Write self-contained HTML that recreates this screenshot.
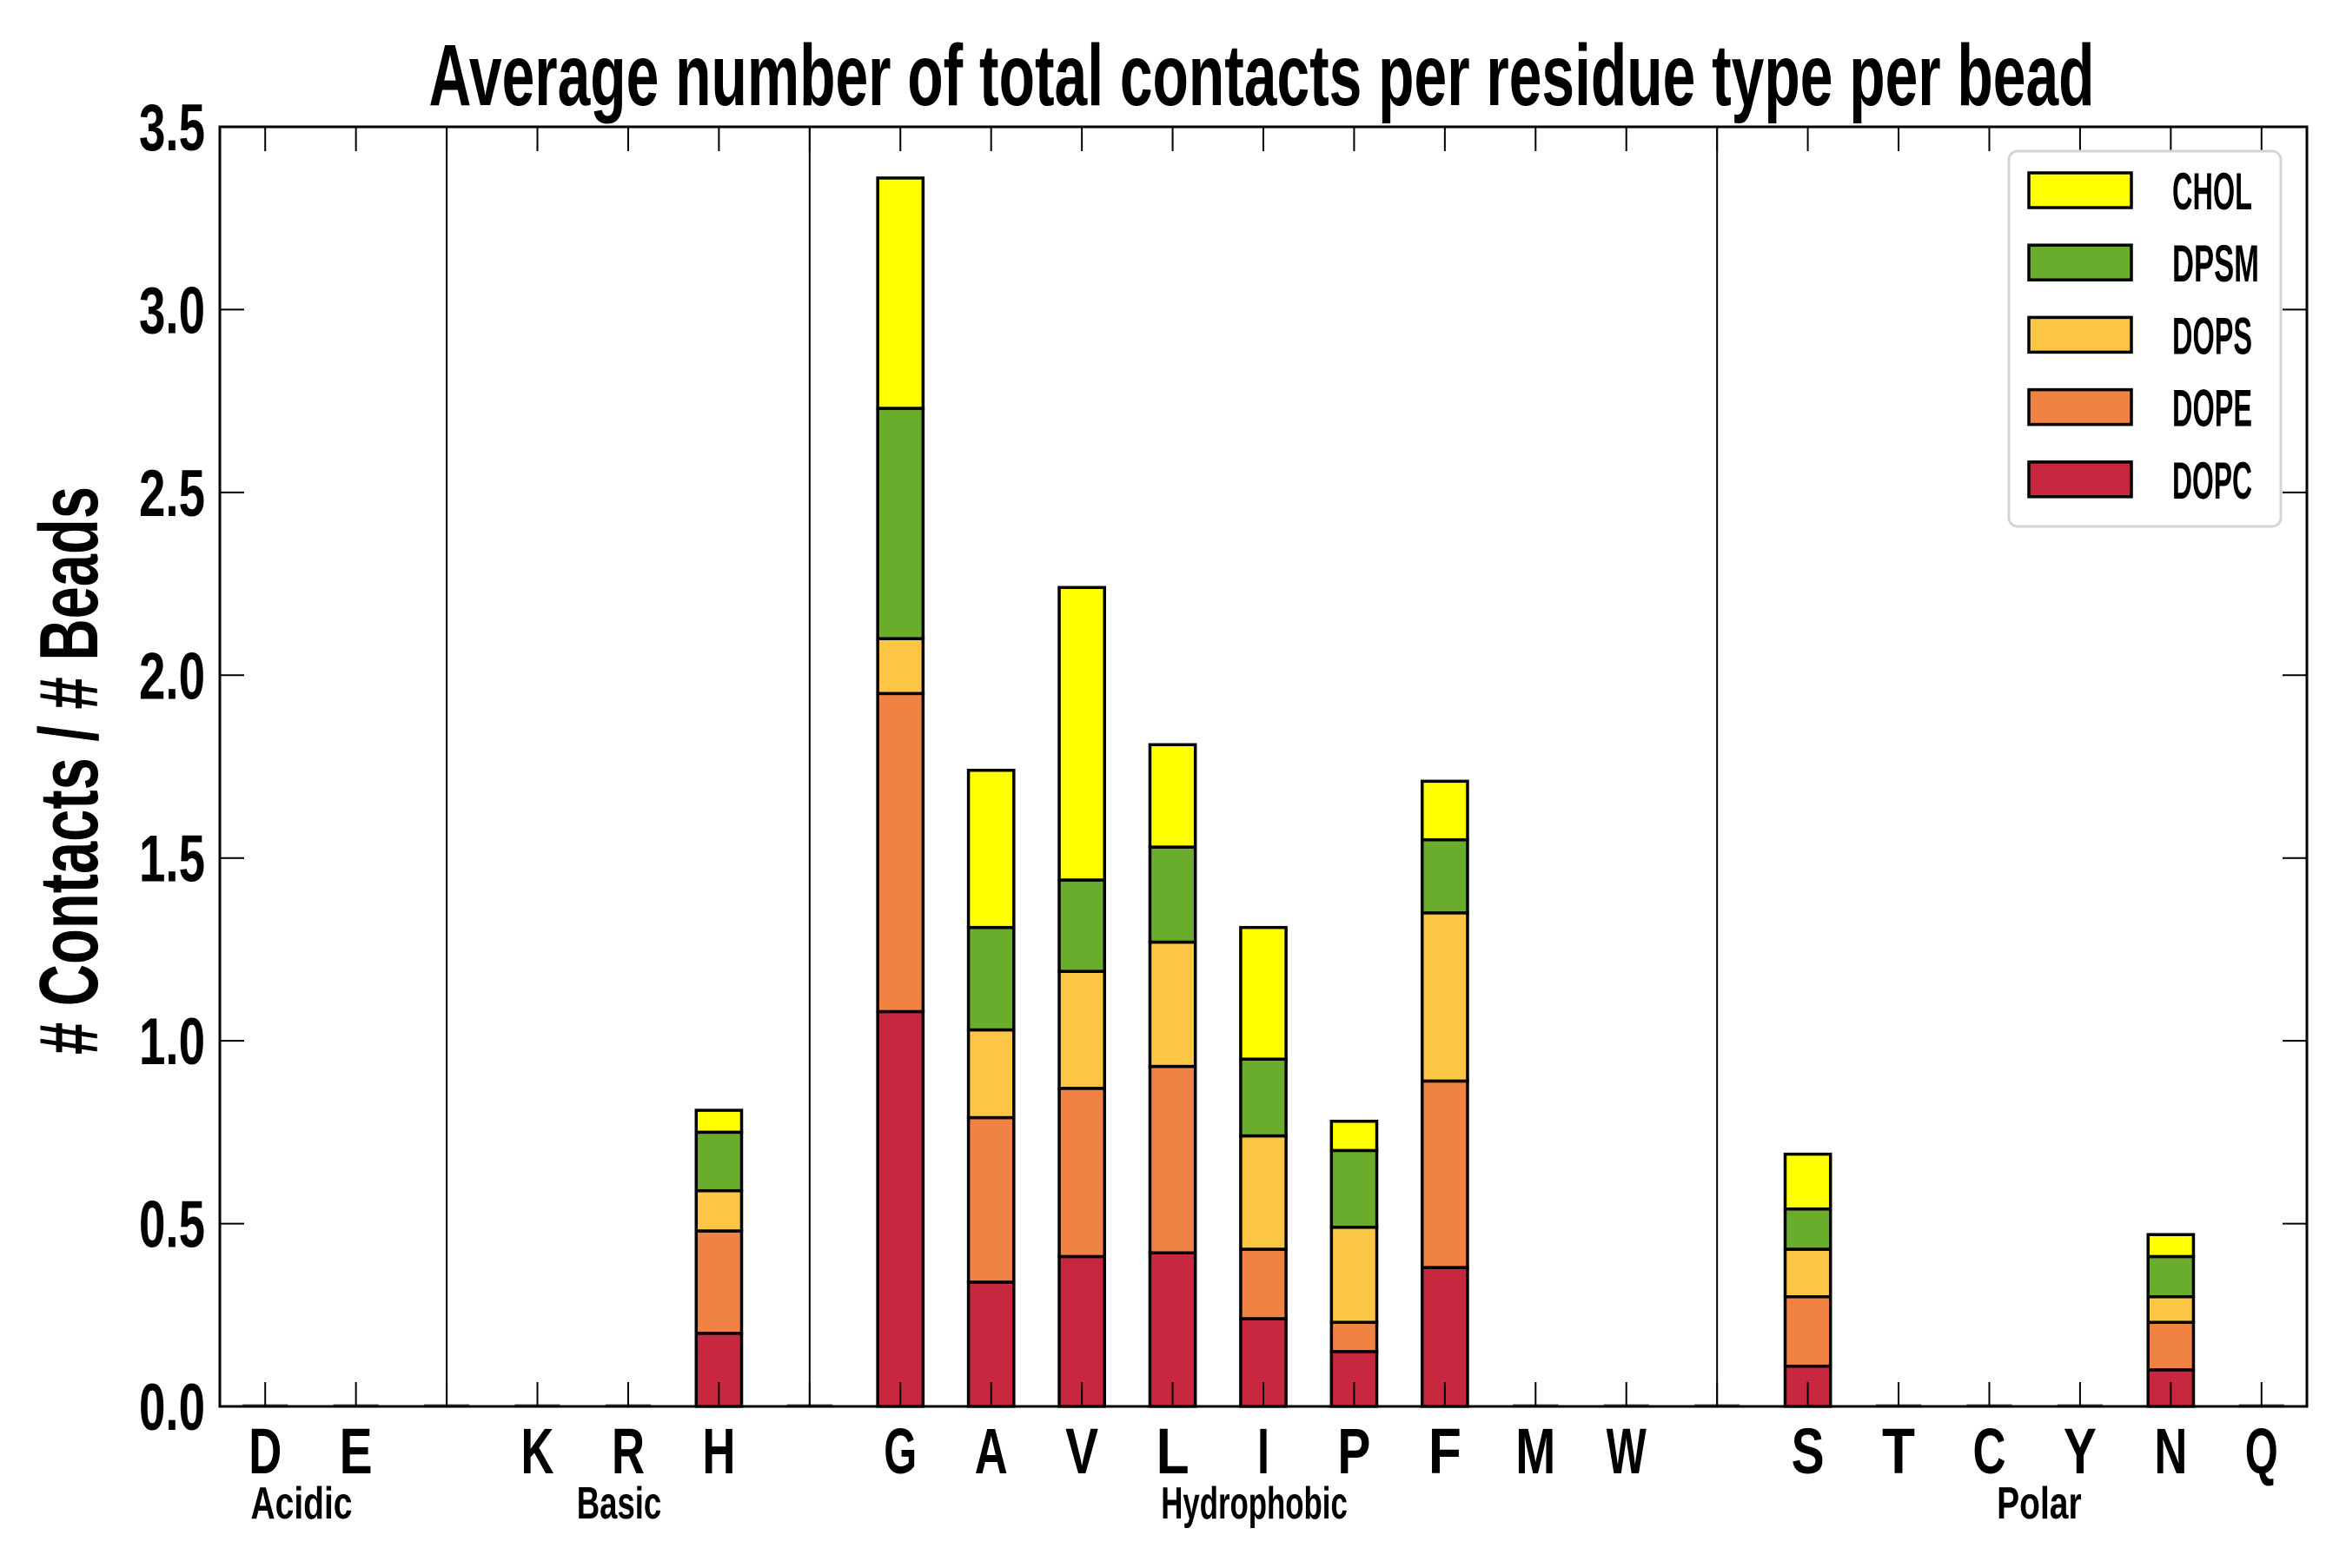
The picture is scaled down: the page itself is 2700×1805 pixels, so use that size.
<!DOCTYPE html>
<html><head><meta charset="utf-8"><style>
html,body{margin:0;padding:0;background:#fff;}
svg text{font-family:"Liberation Sans",sans-serif;font-weight:bold;fill:#000;}
</style></head><body>
<svg id="chart" width="2700" height="1800" viewBox="0 0 2700 1800" xmlns="http://www.w3.org/2000/svg">
<rect width="2700" height="1800" fill="#fff"/>
<g id="bars"></g>
<g id="axes"></g>
<text x="1452" y="121" font-size="100" text-anchor="middle" textLength="1917" lengthAdjust="spacingAndGlyphs">Average number of total contacts per residue type per bead</text>
<text transform="translate(112,887) rotate(-90)" font-size="96" text-anchor="middle" textLength="654" lengthAdjust="spacingAndGlyphs"># Contacts / # Beads</text>
<g id="legend"></g>
</svg>
<script>
const categories = ["D","E","","K","R","H","","G","A","V","L","I","P","F","M","W","","S","T","C","Y","N","Q"];
const separators = [2,6,16];
const seriesNames = ["DOPC","DOPE","DOPS","DPSM","CHOL"];
const DOPC = [0,0,0,0,0,0.20,0,1.08,0.34,0.41,0.42,0.24,0.15,0.38,0,0,0,0.11,0,0,0,0.10,0];
const DOPE = [0,0,0,0,0,0.28,0,0.87,0.45,0.46,0.51,0.19,0.08,0.51,0,0,0,0.19,0,0,0,0.13,0];
const DOPS = [0,0,0,0,0,0.11,0,0.15,0.24,0.32,0.34,0.31,0.26,0.46,0,0,0,0.13,0,0,0,0.07,0];
const DPSM = [0,0,0,0,0,0.16,0,0.63,0.28,0.25,0.26,0.21,0.21,0.20,0,0,0,0.11,0,0,0,0.11,0];
const CHOL = [0,0,0,0,0,0.06,0,0.63,0.43,0.80,0.28,0.36,0.08,0.16,0,0,0,0.15,0,0,0,0.06,0];
const groups = ["Acidic","Basic","Hydrophobic","Polar"];
const groupCenters = [0.4,3.9,10.9,19.55];
const yTicks = [0,0.5,1.0,1.5,2.0,2.5,3.0,3.5];
const yTickLabels = ["0.0","0.5","1.0","1.5","2.0","2.5","3.0","3.5"];
const colors = ["#c8283f","#f08244","#fcc645","#6aac2c","#ffff00"];

const L=253,R=2655,T=146,B=1619;
const xMin=-0.5,xMax=22.5,yMin=0,yMax=3.5;
const xs = v => L + (v-xMin)/(xMax-xMin)*(R-L);
const ys = v => B - (v-yMin)/(yMax-yMin)*(B-T);
const barW = 0.5;
const NS="http://www.w3.org/2000/svg";
function mk(tag, attrs, parent){const e=document.createElementNS(NS,tag);for(const k in attrs)e.setAttribute(k,attrs[k]);parent.appendChild(e);return e;}
const bars=document.getElementById('bars'), axes=document.getElementById('axes'), legend=document.getElementById('legend');
const series=[DOPC,DOPE,DOPS,DPSM,CHOL];

for(let i=0;i<categories.length;i++){
  let base=0;
  const x0=xs(i-barW/2), w=xs(i+barW/2)-x0;
  let any=false;
  for(let s=0;s<series.length;s++){
    const v=series[s][i];
    if(v<=0) continue;
    any=true;
    const r=mk('rect',{x:x0,y:ys(base+v),width:w,height:ys(base)-ys(base+v),fill:colors[s],stroke:'#000','stroke-width':3.5},bars);
    
    
    base+=v;
  }
  if(!any){
    const r=mk('line',{x1:x0,x2:x0+w,y1:B-1,y2:B-1,stroke:'#555','stroke-width':3},bars);
    
    
  }
}
separators.forEach(i=>{
  const l=mk('line',{x1:xs(i),x2:xs(i),y1:T,y2:B,stroke:'#000','stroke-width':2},axes);
  
  
});
const f=mk('rect',{x:L,y:T,width:R-L,height:B-T,fill:'none',stroke:'#000','stroke-width':3},axes);


for(let i=0;i<categories.length;i++){
  const x=xs(i);
  const t1=mk('line',{x1:x,x2:x,y1:T,y2:T+28,stroke:'#000','stroke-width':2},axes);
  
  
  const t2=mk('line',{x1:x,x2:x,y1:B,y2:B-28,stroke:'#000','stroke-width':2},axes);
  
  
  if(categories[i]){
    const c=categories[i];
    const wl=(c==='M'||c==='W')?46:(c==='I'?14:38);
    const tx=mk('text',{x:x,y:1696,'font-size':74,'text-anchor':'middle',textLength:wl,lengthAdjust:'spacingAndGlyphs'},axes);
    tx.textContent=c;
    
    
  }
}
groups.forEach((g,k)=>{
  const tx=mk('text',{x:xs(groupCenters[k]),y:1748,'font-size':52,'text-anchor':'middle',textLength:g.length*19.5,lengthAdjust:'spacingAndGlyphs'},axes);
  tx.textContent=g;
  
  
});
yTicks.forEach((v,k)=>{
  const y=ys(v);
  const a=mk('line',{x1:L,x2:L+28,y1:y,y2:y,stroke:'#000','stroke-width':2},axes);
  
  
  const b=mk('line',{x1:R,x2:R-28,y1:y,y2:y,stroke:'#000','stroke-width':2},axes);
  
  
  const tx=mk('text',{x:236,y:y+27,'font-size':76,'text-anchor':'end',textLength:76,lengthAdjust:'spacingAndGlyphs'},axes);
  tx.textContent=yTickLabels[k];
  
  
});
const lb=mk('rect',{x:2312,y:174,width:313,height:432,rx:10,fill:'#fff',stroke:'#d4d4d4','stroke-width':3},legend);


for(let j=0;j<5;j++){
  const s=4-j, cy=219+j*83.2;
  const sw=mk('rect',{x:2335,y:cy-20,width:118,height:40,fill:colors[s],stroke:'#000','stroke-width':3.5},legend);
  
  
  const tx=mk('text',{x:2500,y:cy+22,'font-size':60,textLength:seriesNames[s]==='DPSM'?100:92,lengthAdjust:'spacingAndGlyphs'},legend);
  tx.textContent=seriesNames[s];
  
  
}
</script>
</body></html>
